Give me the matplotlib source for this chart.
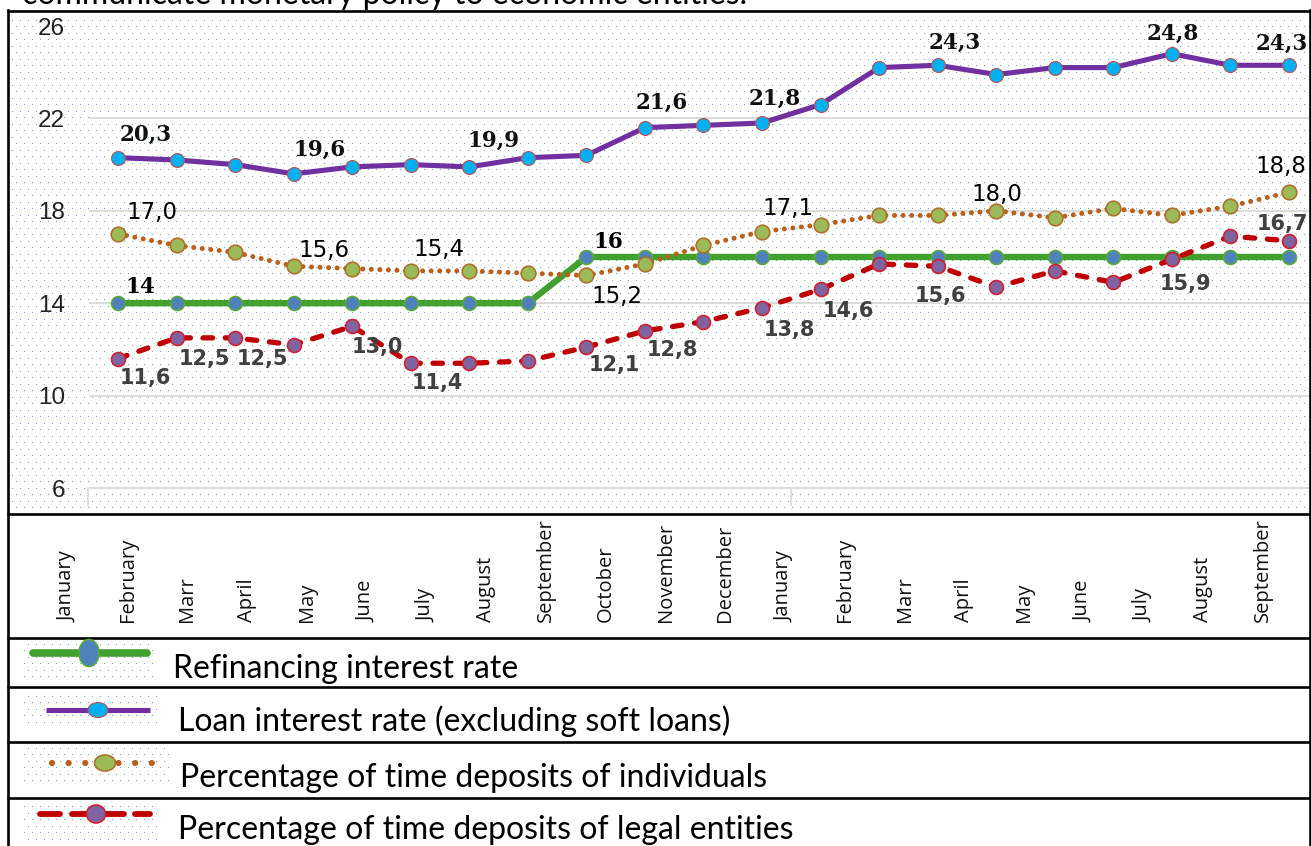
import numpy as np
import matplotlib
matplotlib.use("Agg")
import matplotlib.pyplot as plt
from matplotlib.patches import Ellipse

# --- data ---
months = ["January", "February", "Marr", "April", "May", "June", "July",
          "August", "September", "October", "November", "December",
          "January", "February", "Marr", "April", "May", "June", "July",
          "August", "September"]

refinancing = [14, 14, 14, 14, 14, 14, 14, 14, 16, 16, 16, 16, 16, 16, 16,
               16, 16, 16, 16, 16, 16]
loan = [20.3, 20.2, 20.0, 19.6, 19.9, 20.0, 19.9, 20.3, 20.4, 21.6, 21.7,
        21.8, 22.6, 24.2, 24.3, 23.9, 24.2, 24.2, 24.8, 24.3, 24.3]
individuals = [17.0, 16.5, 16.2, 15.6, 15.5, 15.4, 15.4, 15.3, 15.2, 15.7,
               16.5, 17.1, 17.4, 17.8, 17.8, 18.0, 17.7, 18.1, 17.8, 18.2, 18.8]
legal = [11.6, 12.5, 12.5, 12.2, 13.0, 11.4, 11.4, 11.5, 12.1, 12.8, 13.2,
         13.8, 14.6, 15.7, 15.6, 14.7, 15.4, 14.9, 15.9, 16.9, 16.7]
yticks = [6, 10, 14, 18, 22, 26]

legend_names = ["Refinancing interest rate",
                "Loan interest rate (excluding soft loans)",
                "Percentage of time deposits of individuals",
                "Percentage of time deposits of legal entities"]

# which points carry a value label, with pixel offsets (dx, dy down)
loan_lbl = [(0, 28, -23), (3, 26, -24), (6, 24, -26), (9, 17, -25),
            (11, 13, -24), (14, 17, -22), (18, 1, -20), (20, -7, -21)]
ind_lbl = [(0, 34, -21), (3, 30, -16), (5, 28, -21), (8, 31, 21),
           (11, 26, -23), (15, 1, -16), (20, -8, -26)]
ref_lbl = [(0, 22, -16), (8, 22, -15)]
legal_lbl = [(0, 27, 19), (1, 28, 21), (2, 27, 21), (4, 25, 21), (5, 27, 20),
             (8, 28, 18), (9, 27, 19), (11, 27, 22), (12, 28, 22),
             (14, 3, 30), (18, 14, 25), (20, -7, -17)]

W, H = 1311, 846
fig = plt.figure(figsize=(W / 100, H / 100), dpi=100)

# background layer in pixel coordinates
bg = fig.add_axes([0, 0, 1, 1])
bg.set_xlim(0, W)
bg.set_ylim(H, 0)
bg.axis("off")

# dotted pattern fill
pat = np.zeros((H, W, 4))
yy, xx = np.mgrid[0:H, 0:W]
dots = ((yy % 13 == 0) & (xx % 8 == 0)) | ((yy % 13 == 7) & (xx % 8 == 4))
mask = np.zeros((H, W), bool)
mask[14:511, 10:1307] = True
for (y0, y1, x1) in [(642, 681, 156), (690, 728, 158), (747, 787, 170), (803, 842, 160)]:
    mask[y0:y1, 22:x1] = True
sel = dots & mask
pat[sel] = [0.36, 0.55, 0.85, 0.85]
bg.imshow(pat, extent=(0, W, H, 0), interpolation="nearest", aspect="auto", zorder=0)

# table borders
lw_b = 1.9
for y in [11, 514, 638, 687, 742, 798]:
    bg.plot([7, W], [y, y], color="black", lw=lw_b, solid_capstyle="butt")
bg.plot([7.5, 7.5], [10, H], color="black", lw=lw_b)
bg.plot([1309.5, 1309.5], [10, H], color="black", lw=lw_b)

# partial sentence above the table (cut by the page edge, as in the source)
bg.text(22, 4, "communicate monetary policy to economic entities.", fontsize=23,
        family="Lato", va="baseline", ha="left")

# --- chart ---
ax = fig.add_axes([8 / W, (H - 514) / H, (1309 - 8) / W, (514 - 11) / H])
ax.set_zorder(2)
ax.patch.set_visible(False)
for s in ax.spines.values():
    s.set_visible(False)
x = np.arange(len(months))
ax.set_xlim(-110 / 58.55, (1309 - 118) / 58.55)
ax.set_ylim(6 - 26 / 23.1, 6 + 477 / 23.1)
ax.set_xticks([])
ax.set_yticks(yticks)
ax.set_yticklabels([str(t) for t in yticks], family="Liberation Sans", fontsize=17.5,
                   color="#222222")
ax.tick_params(axis="y", length=0, pad=-41)
gx0 = (90 - 8) / (1309 - 8)
for t in yticks[:-1]:
    ax.axhline(t, xmin=gx0, xmax=1, color="#d9d9d9", lw=1.3, zorder=1)
ax.plot([(88 - 118) / 58.55] * 2, [6, 6 - 17 / 23.1], color="#d9d9d9", lw=1.2, clip_on=False)
ax.plot([(791 - 118) / 58.55] * 2, [6, 6 - 17 / 23.1], color="#d9d9d9", lw=1.2, clip_on=False)

ax.plot(x, refinancing, color="#41a02e", lw=4.6, marker="o", ms=10,
        mfc="#4f81bd", mec="#5aa83c", mew=1.2, zorder=3)
ax.plot(x, loan, color="#7030a0", lw=3.7, marker="o", ms=10,
        mfc="#00b0f0", mec="#c0504d", mew=0.8, zorder=3)
ax.plot(x, individuals, color="#bb5f1c", lw=3.6, dashes=(0.01, 1.7),
        dash_capstyle="round", marker="o", ms=10.5, mfc="#9bbb59",
        mec="#b0702a", mew=1.2, zorder=4)
ax.plot(x, legal, color="#c00000", lw=3.8, dashes=(1.8, 2.4),
        dash_capstyle="round", marker="o", ms=10, mfc="#8064a2",
        mec="#d02030", mew=1.2, zorder=5)


def put_labels(vals, spec, fmt, **kw):
    for i, dx, dy in spec:
        ax.annotate(fmt(vals[i]), (x[i], vals[i]), xytext=(dx * 0.72, -dy * 0.72),
                    textcoords="offset points", ha="center", va="center",
                    zorder=6, **kw)


comma = lambda v: f"{v:.1f}".replace(".", ",")
put_labels(loan, loan_lbl, comma, family="DejaVu Serif", fontweight="bold",
           fontsize=15.5, color="#111111")
put_labels(individuals, ind_lbl, comma, family="DejaVu Sans", fontsize=16.5,
           color="black")
put_labels(refinancing, ref_lbl, lambda v: f"{v:d}", family="DejaVu Serif",
           fontweight="bold", fontsize=15.5, color="black")
put_labels(legal, legal_lbl, comma, family="DejaVu Sans", fontweight="bold",
           fontsize=15, color="#404040")

# --- month band ---
mx = fig.add_axes([8 / W, (H - 638) / H, (1309 - 8) / W, (638 - 514) / H])
mx.axis("off")
mx.set_xlim((8 - 68) / 59.75, (1309 - 68) / 59.75)
mx.set_ylim(638, 514)
for i, m in enumerate(months):
    mx.text(i, 622, m, rotation=90, ha="center", va="bottom", fontsize=14.5,
            family="Open Sans", color="#111111")

# --- legend rows ---
text_pos = [(173, 678), (178, 731), (180, 787), (178, 839)]
bg.plot([33, 147], [653, 653], color="#41a02e", lw=5.5, solid_capstyle="round", zorder=3)
bg.add_patch(Ellipse((89, 653), 20, 27, fc="#4f81bd", ec="#5aa83c", lw=1.2, zorder=4))
bg.plot([46, 150], [710, 710], color="#7030a0", lw=3.7, solid_capstyle="butt", zorder=3)
bg.add_patch(Ellipse((98, 710), 20, 15, fc="#00b0f0", ec="#c0504d", lw=0.8, zorder=4))
bg.plot([52, 152], [763, 763], color="#bb5f1c", lw=4.5, dashes=(0.01, 2.65),
        dash_capstyle="round", zorder=3)
bg.add_patch(Ellipse((105, 763), 21, 16, fc="#9bbb59", ec="#b0702a", lw=1.2, zorder=4))
for xa, xb in [(40, 60), (72, 124), (135, 150)]:
    bg.plot([xa, xb], [814, 814], color="#c00000", lw=4.2, solid_capstyle="round", zorder=3)
bg.add_patch(Ellipse((96, 814), 19, 18, fc="#8064a2", ec="#d02030", lw=1.2, zorder=4))
for (tx, ty), name in zip(text_pos, legend_names):
    bg.text(tx, ty, name, fontsize=23, family="Lato", va="baseline", ha="left")

fig.savefig("out.png", dpi=100)
